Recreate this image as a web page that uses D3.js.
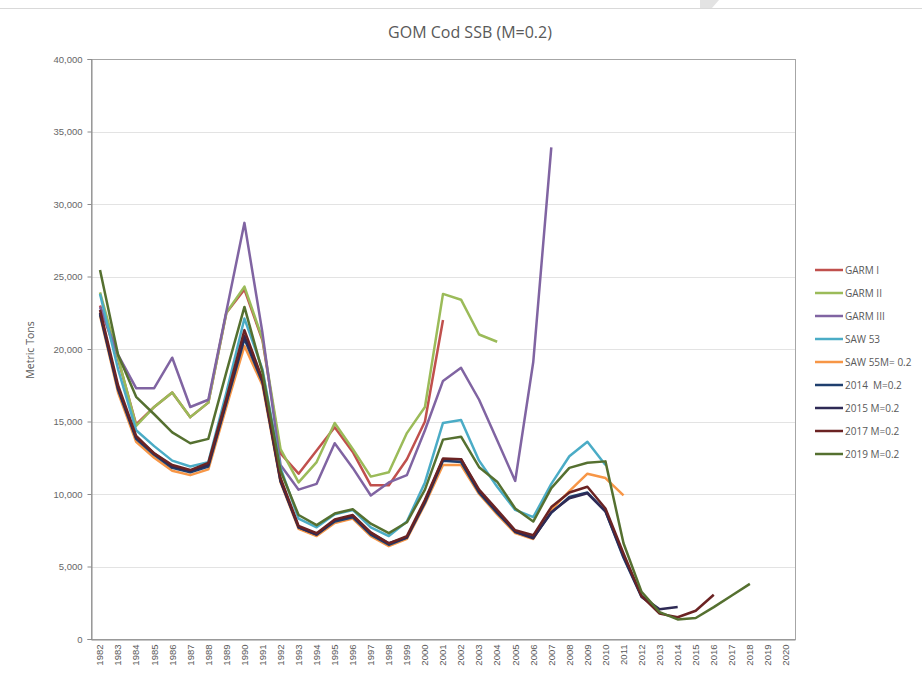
<!DOCTYPE html>
<html>
<head>
<meta charset="utf-8">
<script src="https://cdn.jsdelivr.net/npm/d3@7"></script>
<style>
  html, body { margin: 0; padding: 0; background: #fff; }
  svg { display: block; font-family: "Open Sans", "Noto Sans", sans-serif; }
  .legend text { white-space: pre; }
</style>
</head>
<body>
<svg id="chart" width="922" height="674"></svg>
<script>
// ---- data ----
const years = d3.range(1982, 2021).map(String);
const yTicks = [0, 5000, 10000, 15000, 20000, 25000, 30000, 35000, 40000];
const seriesNames = ["GARM I", "GARM II", "GARM III", "SAW 53", "SAW 55M= 0.2", "2014  M=0.2", "2015 M=0.2", "2017 M=0.2", "2019 M=0.2"];
const seriesColors = ["#C0504D", "#9BBB59", "#8064A2", "#4BACC6", "#F79646", "#1F3F6E", "#2E2A55", "#6B2323", "#557030"];

// values start at 1982
const garmI   = [23000, 19300, 14800, 16000, 17000, 15300, 16300, 22500, 24100, 20600, 12800, 11400, 13000, 14600, 12900, 10600, 10600, 12400, 15000, 22000];
const garmII  = [23900, 19400, 14700, 16000, 17000, 15300, 16300, 22500, 24300, 20700, 13100, 10800, 12200, 14900, 13100, 11200, 11500, 14200, 16000, 23800, 23400, 21000, 20500];
const garmIII = [22900, 19600, 17300, 17300, 19400, 16000, 16500, 22600, 28700, 21100, 12000, 10300, 10700, 13500, 11800, 9900, 10800, 11300, 14400, 17800, 18700, 16500, 13700, 10900, 19100, 33900];
const saw53   = [23800, 18600, 14400, 13300, 12300, 11900, 12200, 17000, 22100, 18600, 11800, 8300, 7700, 8600, 8900, 7700, 7100, 8100, 10800, 14900, 15100, 12300, 10500, 8900, 8400, 10700, 12600, 13600, 12000];
const saw55   = [22300, 17000, 13600, 12500, 11600, 11300, 11700, 16000, 20200, 17500, 10800, 7600, 7100, 8000, 8300, 7100, 6400, 6900, 9300, 12000, 12000, 10000, 8600, 7300, 6900, 8900, 10200, 11400, 11100, 9900];
const a2014   = [22400, 17200, 13800, 12700, 11800, 11500, 11900, 16300, 20700, 17700, 10900, 7700, 7200, 8100, 8400, 7200, 6500, 7000, 9400, 12300, 12200, 10100, 8700, 7400, 7000, 8700, 9800, 10100, 8800, 5600, 2900, 2000];
const a2015   = [22500, 17300, 13900, 12800, 11900, 11600, 12000, 16400, 20900, 17800, 10900, 7700, 7200, 8200, 8500, 7300, 6600, 7000, 9500, 12400, 12400, 10200, 8800, 7400, 6950, 8750, 9700, 10050, 8800, 5700, 2950, 2050, 2200];
const a2017   = [22700, 17500, 14000, 12800, 12000, 11650, 12150, 16600, 21300, 17900, 11100, 7800, 7300, 8250, 8550, 7350, 6600, 7100, 9600, 12450, 12400, 10300, 8900, 7500, 7150, 9100, 10100, 10500, 9000, 5900, 2950, 1750, 1500, 1950, 3050];
const a2019   = [25450, 19600, 16700, 15500, 14250, 13500, 13800, 18400, 22900, 18400, 11600, 8550, 7850, 8650, 8950, 7950, 7300, 8050, 10300, 13750, 13950, 11850, 10850, 9000, 8100, 10400, 11800, 12150, 12250, 6600, 3250, 1850, 1350, 1450, 2200, 3000, 3800];

const seriesValues = [garmI, garmII, garmIII, saw53, saw55, a2014, a2015, a2017, a2019];

// ---- layout ----
const svg = d3.select("#chart");
const plot = { left: 91, right: 795, top: 59, bottom: 639 };

const x = d3.scaleBand().domain(years).range([plot.left, plot.right]).paddingInner(0).paddingOuter(0);
const y = d3.scaleLinear().domain([0, 40000]).range([plot.bottom, plot.top]);
const cx = d => x(d) + x.bandwidth() / 2;

// frame line at top of picture
svg.append("line").attr("x1", 0).attr("x2", 922).attr("y1", 8.5).attr("y2", 8.5)
  .attr("stroke", "#D9D9D9").attr("stroke-width", 1);
svg.append("path").attr("d", "M700,0 L719,0 L712,8 L700,8 Z").attr("fill", "#E3E3E3");

// gridlines
svg.append("g")
  .selectAll("line").data(yTicks.filter(t => t > 0 && t < 40000)).join("line")
  .attr("x1", plot.left).attr("x2", plot.right)
  .attr("y1", d => Math.round(y(d)) + 0.5).attr("y2", d => Math.round(y(d)) + 0.5)
  .attr("stroke", "#E3E3E3").attr("stroke-width", 1);

// plot border
svg.append("rect")
  .attr("x", plot.left + 0.5).attr("y", plot.top + 0.5)
  .attr("width", plot.right - plot.left).attr("height", plot.bottom - plot.top)
  .attr("fill", "none").attr("stroke", "#A6A6A6").attr("stroke-width", 1);

// y axis
const yAxis = d3.axisLeft(y).tickValues(yTicks).tickFormat(d3.format(",")).tickSize(4).tickPadding(5);
const gy = svg.append("g").attr("transform", `translate(${plot.left + 0.5},0)`).call(yAxis);
gy.select(".domain").attr("stroke", "#8C8C8C");
gy.selectAll(".tick line").attr("stroke", "#8C8C8C");
gy.selectAll(".tick text").attr("fill", "#666666").style("font-size", "9.5px");

// x axis
const xAxis = d3.axisBottom(x).tickSize(0).tickPadding(0);
const gx = svg.append("g").attr("transform", `translate(0,${plot.bottom + 0.5})`).call(xAxis);
gx.select(".domain").attr("stroke", "#8C8C8C");
gx.selectAll(".tick text")
  .attr("fill", "#595959").style("font-size", "9.5px")
  .attr("text-anchor", "end")
  .attr("transform", "rotate(-90)")
  .attr("x", -5).attr("y", 0).attr("dy", "0.35em");

// y title
svg.append("text")
  .attr("transform", `translate(34,350) rotate(-90)`)
  .attr("text-anchor", "middle")
  .attr("fill", "#595959").style("font-size", "10.5px")
  .text("Metric Tons");

// title
svg.append("text")
  .attr("x", 470).attr("y", 38)
  .attr("text-anchor", "middle")
  .attr("fill", "#595959").style("font-size", "16px")
  .text("GOM Cod SSB (M=0.2)");

// lines
const line = d3.line().x(d => cx(d[0])).y(d => y(d[1])).curve(d3.curveLinear);
svg.append("g").selectAll("path")
  .data(seriesValues.map((vals, i) => ({ i, pts: vals.map((v, k) => [years[k], v]) })))
  .join("path")
  .attr("d", d => line(d.pts))
  .attr("fill", "none")
  .attr("stroke", d => seriesColors[d.i])
  .attr("stroke-width", 2.5)
  .attr("stroke-linejoin", "round");

// legend
const lg = svg.append("g").attr("class", "legend");
seriesNames.forEach((name, i) => {
  const ly = 270 + i * 23;
  lg.append("line").attr("x1", 815).attr("x2", 843).attr("y1", ly).attr("y2", ly)
    .attr("stroke", seriesColors[i]).attr("stroke-width", 2.5);
  lg.append("text").attr("x", 845).attr("y", ly).attr("dy", "0.35em")
    .attr("fill", "#595959").style("font-size", "10px")
    .text(name);
});
</script>
</body>
</html>
